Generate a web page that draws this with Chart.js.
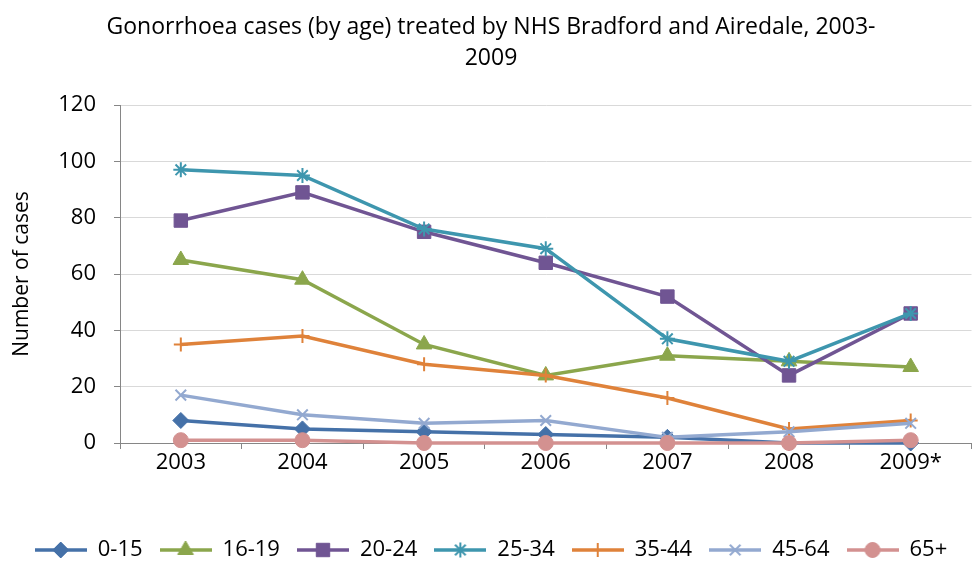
<!DOCTYPE html>
<html>
<head>
<meta charset="utf-8">
<script src="https://cdn.jsdelivr.net/npm/chart.js@4.4.1/dist/chart.umd.min.js"></script>
<style>
  html, body { margin: 0; padding: 0; background: #ffffff; overflow: hidden; }
  #wrap { width: 982px; height: 564px; position: relative; }
</style>
</head>
<body>
<div id="wrap"><canvas id="chart" width="982" height="564"></canvas></div>
<script>
// Reporting years (2009 figures provisional)
const years = ['2003', '2004', '2005', '2006', '2007', '2008', '2009*'];

// Age bands
const ageGroups = ['0-15', '16-19', '20-24', '25-34', '35-44', '45-64', '65+'];

// Gonorrhoea cases treated, per age band
const cases0to15  = [8, 5, 4, 3, 2, 0, 0];
const cases16to19 = [65, 58, 35, 24, 31, 29, 27];
const cases20to24 = [79, 89, 75, 64, 52, 24, 46];
const cases25to34 = [97, 95, 76, 69, 37, 29, 46];
const cases35to44 = [35, 38, 28, 24, 16, 5, 8];
const cases45to64 = [17, 10, 7, 8, 2, 4, 7];
const cases65plus = [1, 1, 0, 0, 0, 0, 1];

// Value axis
const yMin = 0;
const yMax = 120;
const yStep = 20;

const seriesValues = [cases0to15, cases16to19, cases20to24, cases25to34, cases35to44, cases45to64, cases65plus];

const seriesStyles = [
  { color: '#4571A8', pointStyle: 'rectRot',  radius: 8,   border: 1 },
  { color: '#8BA64C', pointStyle: 'triangle', radius: 9,   border: 1 },
  { color: '#705593', pointStyle: 'rect',     radius: 9.5, border: 1 },
  { color: '#3E96AE', pointStyle: 'star',     radius: 7.5, border: 2 },
  { color: '#DF823A', pointStyle: 'cross',    radius: 7,   border: 2 },
  { color: '#93A9D0', pointStyle: 'crossRot', radius: 7.5, border: 2 },
  { color: '#D39190', pointStyle: 'circle',   radius: 7.5, border: 1 }
];

const FONT = "'Open Sans', 'Liberation Sans', sans-serif";
const LINE_W = 3.5;

// Legend symbol: a short line with the series marker in the middle
function legendSymbol(style) {
  const c = document.createElement('canvas');
  c.width = 52; c.height = 22;
  const g = c.getContext('2d');
  g.strokeStyle = style.color;
  g.fillStyle = style.color;
  g.lineWidth = LINE_W;
  g.beginPath();
  g.moveTo(0, 11);
  g.lineTo(52, 11);
  g.stroke();
  g.lineWidth = style.border;
  Chart.helpers.drawPoint(g, {
    pointStyle: style.pointStyle, radius: style.radius, rotation: 0, borderWidth: style.border
  }, 26, 11);
  return c;
}

const datasets = ageGroups.map((label, i) => {
  const s = seriesStyles[i];
  return {
    label: label,
    data: seriesValues[i],
    borderColor: s.color,
    backgroundColor: s.color,
    borderWidth: LINE_W,
    pointStyle: s.pointStyle,
    pointRadius: s.radius,
    pointHoverRadius: s.radius,
    pointBorderWidth: s.border,
    pointBorderColor: s.color,
    pointBackgroundColor: s.color,
    tension: 0,
    clip: false,
    order: ageGroups.length - i   // later age bands painted on top
  };
});

new Chart(document.getElementById('chart'), {
  type: 'line',
  data: { labels: years, datasets: datasets },
  options: {
    responsive: false,
    animation: false,
    devicePixelRatio: 1,
    layout: { padding: { left: 0, right: 0, top: 0, bottom: -7 } },
    plugins: {
      tooltip: { enabled: false },
      title: {
        display: true,
        text: ['Gonorrhoea cases (by age) treated by NHS Bradford and Airedale, 2003-', '2009'],
        color: '#000000',
        font: { family: FONT, size: 23, weight: 'normal', lineHeight: 1.35 },
        padding: { top: 12, bottom: 31 }
      },
      legend: {
        display: true,
        position: 'bottom',
        align: 'center',
        labels: {
          usePointStyle: true,
          pointStyleWidth: 52,
          padding: 17,
          color: '#000000',
          font: { family: FONT, size: 22 },
          generateLabels: (chart) => chart.data.datasets.map((ds, i) => ({
            text: ds.label,
            pointStyle: legendSymbol(seriesStyles[i]),
            datasetIndex: i,
            hidden: false,
            fontColor: '#000000',
            lineWidth: 0,
            strokeStyle: 'transparent',
            fillStyle: 'transparent'
          }))
        }
      }
    },
    scales: {
      x: {
        type: 'category',
        offset: true,
        grid: {
          display: true,
          drawOnChartArea: false,
          offset: true,
          tickLength: 6,
          tickColor: '#868686'
        },
        border: { display: true, color: '#868686', width: 1 },
        ticks: {
          color: '#000000',
          font: { family: FONT, size: 22 },
          padding: 1,
          maxRotation: 0
        },
        afterFit: (scale) => { scale.height = 79; }
      },
      y: {
        type: 'linear',
        min: yMin,
        max: yMax,
        grid: {
          color: '#D9D9D9',
          lineWidth: 1,
          tickLength: 6,
          tickColor: '#868686'
        },
        border: { display: true, color: '#868686', width: 1 },
        ticks: {
          stepSize: yStep,
          color: '#000000',
          font: { family: FONT, size: 22 },
          padding: 18
        },
        title: {
          display: true,
          text: 'Number of cases',
          color: '#000000',
          font: { family: FONT, size: 21 },
          padding: { top: 9, bottom: 0 }
        },
        afterFit: (scale) => { scale.width = 120; }
      }
    }
  }
});
</script>
</body>
</html>
